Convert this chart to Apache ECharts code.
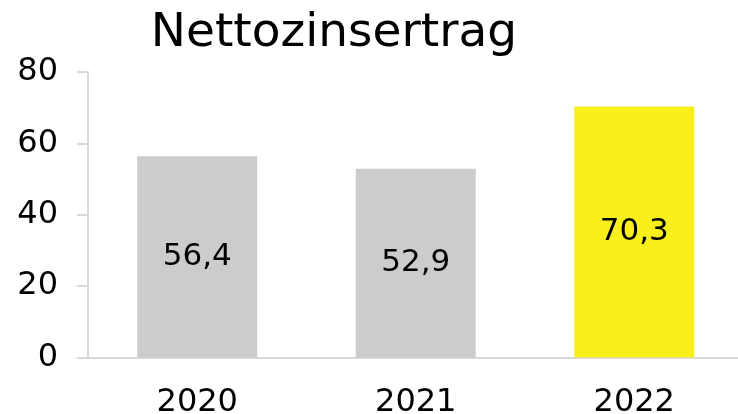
<!DOCTYPE html>
<html>
<head>
<meta charset="utf-8">
<script src="https://cdn.jsdelivr.net/npm/echarts@6/dist/echarts.min.js"></script>
<style>
  html, body { margin: 0; padding: 0; background: #fff; }
  #chart { width: 738px; height: 414px; }
</style>
</head>
<body>
<div id="chart"></div>
<script>
var years = ['2020', '2021', '2022']
var values = [56.4, 52.9, 70.3]
var barColors = ['#cccccc', '#cccccc', '#f9ef1a']

var myChart = echarts.init(document.getElementById('chart'));

var font = 'DejaVu Sans'
var data = []
for (var i in values) {
    data.push({ value: values[i], itemStyle: { color: barColors[i] } })
}

var option = {
    animation: false,
    title: {
        text: 'Nettozinsertrag',
        left: 329, top: 5, textAlign: 'center',
        textStyle: { fontFamily: font, fontSize: 47, fontWeight: 'normal', color: '#000' }
    },
    grid: { left: 88, right: -5.5, top: 72, bottom: 56.5, outerBoundsMode: 'none', containLabel: false },
    xAxis: {
        type: 'category',
        data: years,
        axisLine: { lineStyle: { color: '#d9d9d9', width: 2 } },
        axisTick: { length: 11, lineStyle: { color: '#d9d9d9', width: 2 } },
        axisLabel: { fontFamily: font, fontSize: 32, color: '#000', margin: 29 }
    },
    yAxis: {
        type: 'value',
        min: 0, max: 80, interval: 20,
        splitLine: { show: false },
        axisLine: { show: true, lineStyle: { color: '#d9d9d9', width: 2 } },
        axisTick: { show: true, length: 11, lineStyle: { color: '#d9d9d9', width: 2 } },
        axisLabel: { fontFamily: font, fontSize: 32, color: '#000', margin: 30 }
    },
    series: [{
        type: 'bar',
        data: data,
        barWidth: 120,
        label: {
            show: true, position: 'inside',
            fontFamily: font, fontSize: 31, color: '#000',
            formatter: function (p) { return p.value.toFixed(1).replace('.', ',') }
        }
    }]
};

myChart.setOption(option);
</script>
</body>
</html>
